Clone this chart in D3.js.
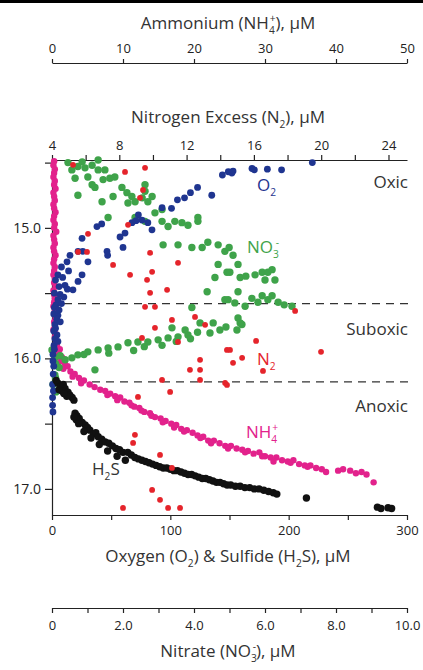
<!DOCTYPE html>
<html>
<head>
<meta charset="utf-8">
<script src="https://cdn.jsdelivr.net/npm/d3@7"></script>
<style>
  body { margin: 0; background: #fff; }
  svg { display: block; font-family: "Open Sans", Lato, sans-serif; }
  .axis path, .axis line { stroke: #222; stroke-width: 1.2; }
  .axis text { fill: #222; font-size: 13px; font-family: "Open Sans", sans-serif; }
</style>
</head>
<body>
<svg id="chart" width="423" height="670"></svg>
<script>
// ---- data: [depth, concentration] ----
var nh4 = [
  [14.49,0.3],[14.52,0.2],[14.55,0.4],[14.58,0.3],[14.61,0.2],[14.64,0.4],[14.67,0.3],[14.70,0.5],[14.73,0.2],[14.76,0.3],
  [14.79,0.4],[14.82,0.2],[14.85,0.3],[14.88,0.5],[14.91,0.3],[14.94,0.2],[14.97,0.4],[15.00,0.3],[15.03,0.6],[15.06,0.2],
  [15.09,0.3],[15.12,0.4],[15.15,0.2],[15.18,0.3],[15.21,0.5],[15.24,0.3],[15.27,0.2],[15.30,0.4],[15.33,0.3],[15.36,0.2],
  [15.39,0.4],[15.42,0.3],[15.45,0.5],[15.48,0.2],[15.51,0.3],[15.54,0.4],[15.57,0.3],[15.60,0.2],[15.63,0.4],[15.66,0.3],
  [15.69,0.5],[15.72,0.3],[15.75,0.4],[15.78,0.2],[15.81,0.5],[15.84,0.4],[15.87,0.6],
  [15.90,0.7],[15.93,1.1],[15.96,0.9],[15.99,1.4],[16.02,1.2],[16.04,1.8],[16.06,2.2],[16.08,1.6],[16.10,2.6],[16.12,3.2],
  [16.14,2.9],[16.15,3.8],[16.17,4.5],[16.19,4.1],[16.20,5.3],[16.22,6.0],[16.24,6.8],[16.25,7.5],[16.27,8.2],[16.29,8.9],
  [16.30,9.6],[16.33,10.2],[16.34,10.9],[16.37,11.6],[16.38,12.3],[16.41,13.0],[16.42,13.8],[16.45,14.5],[16.46,15.3],[16.48,16.0],
  [16.50,16.8],[16.51,17.5],[16.54,18.2],[16.55,19.0],[16.57,19.8],[16.59,20.5],[16.60,21.3],[16.63,22.0],[16.63,22.8],[16.65,23.6],
  [16.67,24.4],[16.67,25.2],[16.69,26.0],[16.70,26.8],[16.71,27.6],[16.73,28.4],[16.72,29.2],[16.75,30.0],[16.76,30.8],[16.76,31.6],
  [16.78,32.4],[16.79,33.2],[16.78,34.0],[16.81,34.8],[16.82,35.6],[16.82,36.4],[16.84,37.2],[16.85,38.0],[16.86,40.3],[16.85,41.0],
  [16.86,42.0],[16.88,42.8],[16.87,43.6],[16.89,44.3],[16.95,45.3],
  [16.28,7.8],[16.32,9.2],[16.36,11.2],[16.40,12.6],[16.44,14.0],[16.49,15.6],[16.53,17.2],[16.56,18.6],[16.61,20.9],[16.65,22.4],
  [16.69,24.8],[16.72,27.2],[16.75,29.6],[16.79,31.2],[16.80,33.6],[16.83,36.0],[16.87,38.6]
];

var h2s = [
  [16.17,3.5],[16.19,5.0],[16.21,7.5],[16.20,9.5],[16.23,11],[16.25,8.5],[16.26,13.5],[16.28,15],[16.30,17],[16.29,12.5],[16.32,18.5],
  [16.42,19.5],[16.44,21],[16.46,23],[16.47,20.5],[16.49,25.5],[16.51,28],[16.53,30],[16.55,32],[16.58,35],[16.57,37],
  [16.60,39],[16.62,42],[16.64,45],[16.65,48],[16.67,51],[16.69,54],[16.70,57],[16.72,60],[16.72,64],[16.74,67],
  [16.76,70],[16.77,73],[16.78,76],[16.79,79],[16.80,82],[16.81,85],[16.82,88],[16.83,91],[16.84,94],[16.84,97],
  [16.85,100],[16.86,103],[16.86,106],[16.87,109],[16.88,112],[16.89,115],[16.89,118],[16.90,121],[16.91,124],[16.92,127],
  [16.92,130],[16.93,133],[16.94,136],[16.95,139],[16.95,142],[16.96,145],[16.97,148],[16.97,151],[16.98,155],[16.98,159],
  [16.99,163],[16.99,167],[17.00,171],[17.00,175],[17.01,179],[17.02,183],[17.03,187],[17.04,190],
  [17.07,215],[17.14,275],[17.15,278],[17.145,284],[17.15,287],
  [16.24,6],[16.27,10],[16.45,18.5],[16.50,22.5],[16.56,27],[16.61,33],[16.66,40],[16.71,47],[16.75,55],[16.78,62]
];

var o2 = [
  [14.50,220],[14.555,194],[14.55,182],[14.555,171],[14.545,169],[14.58,152],[14.57,149],[14.565,153],[14.595,144],[14.75,135],
  [14.69,123],[14.73,117],[14.77,112],[14.785,106],[14.85,101],[14.845,93],[14.96,81],[15.015,84.5],[14.94,76],[14.90,73],
  [14.96,67.6],[14.945,71],[15.04,61.7],[15.07,57.5],[15.15,60],[15.21,47],[15.18,46.5],[14.99,38],[14.97,42],[15.08,25.4],
  [15.26,30.4],[15.18,26],[15.18,22],[15.21,15.2],[15.26,12.7],[15.36,25.4],[15.41,22],[15.475,17.7],[15.44,11],[15.36,5],
  [15.51,6.8],[15.59,3.4],[15.67,5],[15.74,2.5],[15.82,4.2],[15.90,1.7],[15.97,0.8],[16.36,0.5],[16.41,0.8],
  [15.30,8],[15.33,14],[15.38,9],[15.40,3],[15.45,6],[15.47,13],[15.50,2],[15.53,10],[15.55,5],[15.58,8],
  [15.61,2],[15.63,6],[15.66,1.5],[15.70,4],[15.72,7],[15.77,3],[15.79,1.5],[15.85,2.5],[15.87,5],[15.93,2],
  [16.02,0.8],[16.06,1.5],[16.12,1],[16.20,0.6],[16.25,1.2],[16.30,0.5]
];

var no3 = [
  [14.50,0.45],[14.53,0.73],[14.54,0.93],[14.52,1.13],[14.48,1.30],[14.556,1.30],[14.556,1.49],[14.62,1.63],[14.61,1.01],[14.62,0.65],
  [14.69,1.21],[14.75,0.73],[14.61,1.77],[14.63,1.44],[14.67,1.13],[14.494,0.85],[14.556,0.56],
  [14.80,1.41],[14.76,1.72],[14.69,1.97],[14.73,2.11],[14.76,2.25],[14.80,2.34],[14.77,2.54],[14.72,2.62],[14.67,2.62],
  [14.80,2.70],[14.76,2.82],[14.92,1.58],[14.81,2.14],
  [14.92,2.34],[14.95,2.62],[14.885,2.90],[14.95,3.10],[14.99,3.27],[14.95,3.46],[14.96,3.66],[14.98,3.83],[14.95,4.11],[14.92,4.11],
  [14.86,3.10],[15.13,3.13],[15.13,3.55],[15.15,3.94],[15.15,4.23],[15.11,4.39],[15.13,4.68],[15.18,4.87],[15.28,4.68],[15.34,4.93],
  [15.38,4.59],[15.49,4.37],[15.55,4.87],[15.61,3.94],
  [15.15,4.99],[15.21,5.10],[15.28,5.24],[15.34,5.01],[15.38,5.30],[15.37,5.46],[15.36,5.72],[15.34,5.92],[15.34,6.08],[15.32,6.20],
  [15.40,6.00],[15.40,6.28],[15.49,5.24],[15.55,4.96],[15.575,5.15],[15.60,5.44],[15.54,5.63],[15.57,5.80],[15.52,5.92],[15.55,6.08],
  [15.52,6.20],[15.57,6.37],[15.59,6.54],[15.60,6.76],[15.69,5.24],[15.74,5.35],
  [15.935,0.0],[15.996,0.08],[15.98,0.23],[16.01,0.37],[15.996,0.56],[15.973,0.73],[15.95,1.01],[15.935,1.30],[15.92,1.58],[15.912,1.86],
  [15.88,2.14],[15.874,2.42],[15.874,2.70],[15.858,2.99],[15.843,3.27],[15.835,3.55],[15.82,3.83],[15.766,3.38],[15.782,3.75],[15.728,4.17],
  [15.728,4.54],[15.782,4.73],[15.805,4.45],[15.782,5.21],[15.728,5.30],[16.088,1.21],[16.126,0.08],[16.20,0.03],[16.257,0.11],
  [15.97,0.9],[15.96,1.6],[15.94,2.3],[15.91,2.6],[15.90,3.1],[15.87,3.5],[15.85,3.9],[15.80,4.1],[15.76,4.9],[16.04,0.1],
  [16.07,0.2],[16.15,0.1]
];

var n2 = [
  [14.517,5.25],[14.571,8.34],[14.54,9.53],[14.709,9.41],[14.77,9.23],[14.977,8.52],[15.046,6.14],[15.184,5.55],[15.184,6.08],[15.192,9.83],
  [15.284,7.63],[15.268,11.49],[15.337,9.95],[15.36,8.64],[15.398,9.65],[15.475,10.84],[15.498,9.83],[15.605,9.53],[15.605,10.12],[15.705,11.13],
  [15.682,12.50],[15.743,13.10],[15.766,10.12],[15.636,18.45],[15.843,9.35],[15.874,11.49],[15.935,14.40],[16.011,12.80],[16.088,12.20],[16.088,12.80],
  [16.165,10.54],[16.165,12.80],[16.188,14.29],[16.257,11.02],[16.295,9.11],[16.586,8.93],[16.648,8.82],[16.74,10.42],[16.839,11.13],[17.008,9.95],
  [17.084,10.42],[17.146,8.22],[17.146,10.90],[17.146,11.61],[15.935,14.58],[16.034,14.76],[15.996,15.30],[15.866,16.13],[16.096,16.54],[15.95,19.99],
  [16.203,14.40]
];

// axis ticks
var nh4Ticks = [0, 10, 20, 30, 40, 50];
var n2Ticks = [4, 6, 8, 10, 12, 14, 16, 18, 20, 22, 24];
var o2Ticks = [0, 50, 100, 150, 200, 250, 300];
var no3Ticks = [0, 1, 2, 3, 4, 5, 6, 7, 8, 9, 10];
var depthTicks = [14.5, 15, 15.5, 16, 16.5, 17];
var zoneBounds = [15.58, 16.18];

var colors = { o2: "#1f3590", no3: "#3fa34a", n2: "#e5242b", nh4: "#e2228c", h2s: "#111111" };

var svg = d3.select("#chart");
var plotL = 52, plotR = 407, plotT = 160, plotB = 515;

var xNH4 = d3.scaleLinear().domain([0, 50]).range([plotL, plotR]);
var xN2 = d3.scaleLinear().domain([4, 25.1]).range([plotL, plotR]);
var xO2 = d3.scaleLinear().domain([0, 300]).range([plotL, plotR]);
var xNO3 = d3.scaleLinear().domain([0, 10]).range([plotL, plotR]);
var y = d3.scaleLinear().domain([14.48, 17.2]).range([plotT, plotB]);

// thick rule at the very top
svg.append("rect").attr("x", 0).attr("y", 0).attr("width", 423).attr("height", 3).attr("fill", "#000");

// text with sub/superscripts: parts = [[text, kind, dx]]
function richText(x, yy, parts, size, color, anchor) {
  var t = svg.append("text").attr("x", x).attr("y", yy).attr("font-size", size)
    .attr("fill", color).attr("text-anchor", anchor || "start");
  var shift = 0;
  parts.forEach(function(p) {
    var ts = t.append("tspan").text(p[0]);
    var target = p[1] === "sub" ? size * 0.32 : p[1] === "sup" ? -size * 0.42 : 0;
    ts.attr("dy", target - shift);
    shift = target;
    if (p[1]) ts.attr("font-size", size * 0.6);
    if (p[2]) ts.attr("dx", p[2]);
  });
  return t;
}

// axes
svg.append("g").attr("class", "axis").attr("transform", "translate(0,63)")
  .call(d3.axisTop(xNH4).tickValues(nh4Ticks).tickSize(4).tickSizeOuter(0).tickPadding(6));

svg.append("g").attr("class", "axis").attr("transform", "translate(0," + plotT + ")")
  .call(d3.axisTop(xN2).tickValues(n2Ticks).tickSize(5).tickSizeOuter(0).tickPadding(5)
    .tickFormat(function(d) { return d % 4 === 0 ? d : ""; }));

svg.append("g").attr("class", "axis").attr("transform", "translate(" + plotL + ",0)")
  .call(d3.axisLeft(y).tickValues(depthTicks).tickSize(7).tickSizeOuter(0).tickPadding(4)
    .tickFormat(function(d) { return d % 1 === 0 ? d.toFixed(1) : ""; }))
  .selectAll("text").style("font-size", "14px");

svg.append("g").attr("class", "axis").attr("transform", "translate(0," + plotB + ")")
  .call(d3.axisBottom(xO2).tickValues(o2Ticks).tickSize(5).tickSizeOuter(0).tickPadding(6)
    .tickFormat(function(d) { return d % 100 === 0 ? d : ""; }));

svg.append("g").attr("class", "axis").attr("transform", "translate(0,608)")
  .call(d3.axisBottom(xNO3).tickValues(no3Ticks).tickSize(5).tickSizeOuter(0).tickPadding(8)
    .tickFormat(function(d) { return d % 2 !== 0 ? "" : d === 0 ? "0" : d.toFixed(1); }));

// axis titles
richText(228, 29, [["Ammonium (NH"], ["4", "sub"], ["+", "sup", -5], ["), µM"]], 17, "#333", "middle");
richText(228, 123, [["Nitrogen Excess (N"], ["2", "sub"], ["), µM"]], 17, "#333", "middle");
richText(228, 562, [["Oxygen (O"], ["2", "sub"], [") & Sulfide (H"], ["2", "sub"], ["S), µM"]], 17, "#333", "middle");
richText(228, 657, [["Nitrate (NO"], ["3", "sub"], ["-", "sup", -4], ["), µM"]], 17, "#333", "middle");

// zone boundaries
svg.selectAll(".zone").data(zoneBounds).enter().append("line")
  .attr("x1", plotL + 12).attr("x2", plotR + 1)
  .attr("y1", function(d) { return y(d); }).attr("y2", function(d) { return y(d); })
  .attr("stroke", "#333").attr("stroke-width", 1.3).attr("stroke-dasharray", "8,6");

// scatter series
function dots(data, xs, color, r) {
  svg.append("g").selectAll("circle").data(data).enter().append("circle")
    .attr("cx", function(d) { return xs(d[1]); })
    .attr("cy", function(d) { return y(d[0]); })
    .attr("r", r).attr("fill", color);
}
dots(nh4, xNH4, colors.nh4, 3.2);
dots(no3, xNO3, colors.no3, 3.7);
dots(o2, xO2, colors.o2, 3.4);
dots(h2s, xO2, colors.h2s, 3.7);
dots(n2, xN2, colors.n2, 2.9);

// zone and series labels
svg.append("text").attr("x", 408).attr("y", 188).attr("text-anchor", "end").attr("font-size", 17).attr("fill", "#333").text("Oxic");
svg.append("text").attr("x", 408).attr("y", 335).attr("text-anchor", "end").attr("font-size", 17).attr("fill", "#333").text("Suboxic");
svg.append("text").attr("x", 408).attr("y", 412).attr("text-anchor", "end").attr("font-size", 17).attr("fill", "#333").text("Anoxic");

richText(257, 191, [["O"], ["2", "sub"]], 17, colors.o2);
richText(247, 253, [["NO"], ["3", "sub"], ["-", "sup", -3]], 17, colors.no3);
richText(257, 365, [["N"], ["2", "sub"]], 17, colors.n2);
richText(246, 438, [["NH"], ["4", "sub"], ["+", "sup", -5]], 17, colors.nh4);
richText(92, 475, [["H"], ["2", "sub"], ["S"]], 17, "#333");
</script>
</body>
</html>
